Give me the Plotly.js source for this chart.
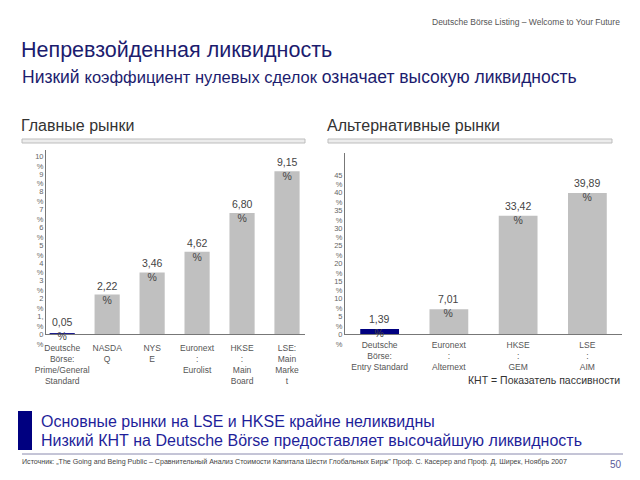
<!DOCTYPE html>
<html>
<head>
<meta charset="utf-8">
<script src="https://cdn.plot.ly/plotly-3.0.1.min.js"></script>
<style>html,body{margin:0;padding:0;background:#fff;}#chart{width:640px;height:480px;}</style>
</head>
<body>
<div id="chart"></div>
<script>
// ---- data ----
var mainCats = ["Deutsche<br>Börse:<br>Prime/General<br>Standard", "NASDA<br>Q", "NYS<br>E", "Euronext<br>:<br>Eurolist", "HKSE<br>:<br>Main<br>Board", "LSE:<br>Main<br>Marke<br>t"];
var mainVals = [0.05, 2.22, 3.46, 4.62, 6.80, 9.15];
var mainTickVals = [0, 1, 2, 3, 4, 5, 6, 7, 8, 9, 10];
var mainTickText = ["0<br>%", "1,<br>%", "2<br>%", "3<br>%", "4<br>%", "5<br>%", "6<br>%", "7<br>%", "8<br>%", "9<br>%", "10<br>%"];

var altCats = ["Deutsche<br>Börse:<br>Entry Standard", "Euronext<br>:<br>Alternext", "HKSE<br>:<br>GEM", "LSE<br>:<br>AIM"];
var altVals = [1.39, 7.01, 33.42, 39.89];
var altTickVals = [0, 5, 10, 15, 20, 25, 30, 35, 40, 45];
var altTickText = ["0<br>%", "5<br>%", "10<br>%", "15<br>%", "20<br>%", "25<br>%", "30<br>%", "35<br>%", "40<br>%", "45<br>%"];

var GRAY = "#c0c0c0", NAVY = "#000080";
var FONT = "Liberation Sans, Arial, sans-serif";

function fmt(v) { return v.toFixed(2).replace(".", ",") + "<br>%"; }
function colors(n) { var c = []; for (var i = 0; i < n; i++) c.push(i === 0 ? NAVY : GRAY); return c; }
function px(x) { return x / 640; }
function py(y) { return 1 - y / 480; }

var traces = [
  {type: "bar", x: mainCats, y: mainVals, xaxis: "x", yaxis: "y", width: 0.56,
   marker: {color: colors(mainVals.length)}, hoverinfo: "none"},
  {type: "bar", x: altCats, y: altVals, xaxis: "x2", yaxis: "y2", width: 0.56,
   marker: {color: colors(altVals.length)}, hoverinfo: "none"}
];

var annotations = [];
mainCats.forEach(function (c, i) {
  annotations.push({xref: "x", yref: "y", x: c, y: mainVals[i], text: fmt(mainVals[i]), showarrow: false,
    yanchor: "middle", yshift: i === 0 ? 4 : 2, font: {family: FONT, size: 10.5, color: "#444"}});
});
altCats.forEach(function (c, i) {
  annotations.push({xref: "x2", yref: "y2", x: c, y: altVals[i], text: fmt(altVals[i]), showarrow: false,
    yanchor: "middle", yshift: 3, font: {family: FONT, size: 10.5, color: "#444"}});
});

function txt(x, y, s, size, color, xanchor) {
  annotations.push({xref: "paper", yref: "paper", x: px(x), y: py(y), text: s, showarrow: false,
    xanchor: xanchor || "left", yanchor: "middle", align: xanchor === "right" ? "right" : "left",
    font: {family: FONT, size: size, color: color}});
}
txt(622, 22, "Deutsche Börse Listing – Welcome to Your Future", 8.5, "#555", "right");
txt(19, 50, "Непревзойденная ликвидность", 21.5, "#1c1c6e");
txt(20, 77, "Низкий <span style='font-size:16.5px'>коэффициент нулевых сделок</span> означает высокую ликвидность", 17.5, "#1c1c6e");
txt(19, 125, "Главные рынки", 16, "#333");
txt(325, 125, "Альтернативные рынки", 16, "#333");
txt(622, 380, "КНТ = Показатель пассивности", 10.5, "#333", "right");
txt(39, 421, "Основные рынки на LSE и HKSE крайне неликвидны", 16, "#1f1f9a");
txt(39, 440, "Низкий КНТ на Deutsche Börse предоставляет высочайшую ликвидность", 16, "#1f1f9a");
txt(20, 462, "Источник: „The Going and Being Public – Сравнительный Анализ Стоимости Капитала Шести Глобальных Бирж\" Проф. С. Касерер and Проф. Д. Ширек, Ноябрь 2007", 7.1, "#444");
txt(624, 464, "50", 10, "#5a5a9a", "right");

var shapes = [
  {type: "rect", xref: "paper", yref: "paper", x0: px(22), x1: px(305), y0: py(143), y1: py(139),
   fillcolor: "#ececec", line: {color: "#bdbdbd", width: 1}},
  {type: "rect", xref: "paper", yref: "paper", x0: px(328), x1: px(612), y0: py(143), y1: py(139),
   fillcolor: "#ececec", line: {color: "#bdbdbd", width: 1}},
  {type: "rect", xref: "paper", yref: "paper", x0: px(18), x1: px(32), y0: py(450), y1: py(411),
   fillcolor: "#000080", line: {width: 0}},
  {type: "line", xref: "paper", yref: "paper", x0: px(22), x1: px(623), y0: py(454), y1: py(454),
   line: {color: "#8a8aae", width: 1}}
];

var axBase = {showgrid: false, zeroline: false, showline: true, linecolor: "#777", linewidth: 1, ticks: "",
  fixedrange: true};

var layout = {
  width: 640, height: 480, margin: {l: 0, r: 0, t: 0, b: 0},
  paper_bgcolor: "#fff", plot_bgcolor: "#fff", showlegend: false, bargap: 0.44,
  font: {family: FONT, color: "#555"},
  xaxis: Object.assign({}, axBase, {domain: [px(46), px(305)], anchor: "y", type: "category",
    range: [-0.36, 5.4], tickfont: {family: FONT, size: 8.5, color: "#555"}, tickangle: 0, ticklabelstandoff: 6}),
  yaxis: Object.assign({}, axBase, {domain: [py(334), py(150)], anchor: "x", range: [0, 10.34],
    tickmode: "array", tickvals: mainTickVals, ticktext: mainTickText, ticklabelshift: 5,
    tickfont: {family: FONT, size: 7.5, color: "#666"}}),
  xaxis2: Object.assign({}, axBase, {domain: [px(345), px(622)], anchor: "y2", type: "category",
    range: [-0.5, 3.5], tickfont: {family: FONT, size: 8.5, color: "#555"}, tickangle: 0, ticklabelstandoff: 3}),
  yaxis2: Object.assign({}, axBase, {domain: [py(334), py(153)], anchor: "x2", range: [0, 51.2],
    tickmode: "array", tickvals: altTickVals, ticktext: altTickText, ticklabelshift: 5,
    tickfont: {family: FONT, size: 7.5, color: "#666"}}),
  annotations: annotations,
  shapes: shapes
};

Plotly.newPlot("chart", traces, layout, {staticPlot: true, displayModeBar: false});
</script>
</body>
</html>
